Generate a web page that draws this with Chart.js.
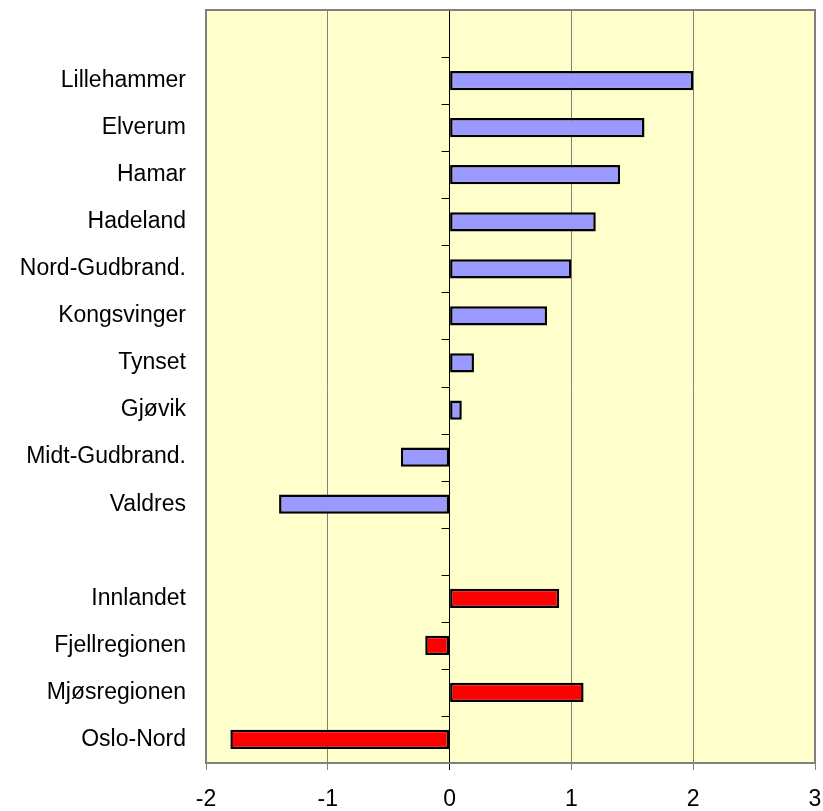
<!DOCTYPE html>
<html lang="no">
<head>
    <meta charset="UTF-8">
    <title>Regioner</title>
    <script src="https://cdn.jsdelivr.net/npm/chart.js"></script>
    <style>
        html, body { margin: 0; padding: 0; background: #fff; }
        #wrap { width: 823px; height: 811px; }
    </style>
</head>
<body>
<div id="wrap">
    <canvas id="regionChart" width="823" height="811"></canvas>
</div>
<script>
    // kategorier (tom plass øverst og mellom gruppene)
    const categories = ['', 'Lillehammer', 'Elverum', 'Hamar', 'Hadeland', 'Nord-Gudbrand.',
        'Kongsvinger', 'Tynset', 'Gjøvik', 'Midt-Gudbrand.', 'Valdres', '',
        'Innlandet', 'Fjellregionen', 'Mjøsregionen', 'Oslo-Nord'];

    // kommuner / regioner
    const regionValues = [null, 2.0, 1.6, 1.4, 1.2, 1.0, 0.8, 0.2, 0.1, -0.4, -1.4, null,
        null, null, null, null];
    // samlede regioner
    const groupValues = [null, null, null, null, null, null, null, null, null, null, null, null,
        0.9, -0.2, 1.1, -1.8];

    const xTicks = [-2, -1, 0, 1, 2, 3];

    const FONT = { family: '"Liberation Sans", Arial, sans-serif', size: 23 };

    // bakgrunn, ramme og små streker på nullaksen
    const framePlugin = {
        id: 'frame',
        beforeDraw(chart) {
            const a = chart.chartArea, c = chart.ctx;
            c.save();
            c.fillStyle = '#FFFFCC';
            c.fillRect(a.left, a.top, a.right - a.left, a.bottom - a.top);
            c.restore();
        },
        afterDatasetsDraw(chart) {
            const a = chart.chartArea, c = chart.ctx;
            const x0 = chart.scales.x.getPixelForValue(0);
            const y = chart.scales.y;
            const step = y.getPixelForValue(1) - y.getPixelForValue(0);
            c.save();
            c.strokeStyle = '#000';
            c.lineWidth = 1;
            for (let i = 0; i <= categories.length; i++) {
                const py = Math.round(y.getPixelForValue(i) - step / 2) + 0.5;
                c.beginPath();
                c.moveTo(x0 - 8, py);
                c.lineTo(x0, py);
                c.stroke();
            }
            c.strokeStyle = '#808080';
            c.lineWidth = 2;
            c.strokeRect(a.left, a.top, a.right - a.left, a.bottom - a.top);
            c.restore();
        }
    };

    const ctx = document.getElementById('regionChart').getContext('2d');
    new Chart(ctx, {
        type: 'bar',
        data: {
            labels: categories,
            datasets: [{
                data: regionValues,
                backgroundColor: '#9999FF',
                borderColor: '#000',
                borderWidth: 2.5,
                borderSkipped: false,
                barPercentage: 0.41,
                categoryPercentage: 1
            }, {
                data: groupValues,
                backgroundColor: '#FF0000',
                borderColor: '#000',
                borderWidth: 2.5,
                borderSkipped: false,
                barPercentage: 0.41,
                categoryPercentage: 1
            }]
        },
        options: {
            indexAxis: 'y',
            responsive: false,
            animation: false,
            layout: { padding: { top: 10, right: 8, left: 0, bottom: 0 } },
            plugins: { legend: { display: false }, tooltip: { enabled: false } },
            scales: {
                x: {
                    min: -2,
                    max: 3,
                    afterBuildTicks(scale) {
                        scale.ticks = xTicks.map(v => ({ value: v }));
                    },
                    afterFit(scale) {
                        scale.height = 48;
                        scale.paddingLeft = 0;
                        scale.paddingRight = 0;
                    },
                    grid: {
                        color: c => c.tick && c.tick.value === 0 ? '#000' : '#808080',
                        lineWidth: 1,
                        tickLength: 7
                    },
                    border: { display: false },
                    ticks: { color: '#000', font: FONT, padding: 16, maxRotation: 0 }
                },
                y: {
                    stacked: true,
                    afterFit(scale) {
                        scale.width = 206;
                        scale.paddingTop = 0;
                        scale.paddingBottom = 0;
                    },
                    grid: { display: false, drawTicks: false },
                    border: { display: false },
                    ticks: { color: '#000', font: FONT, padding: 20, autoSkip: false }
                }
            }
        },
        plugins: [framePlugin]
    });
</script>
</body>
</html>
